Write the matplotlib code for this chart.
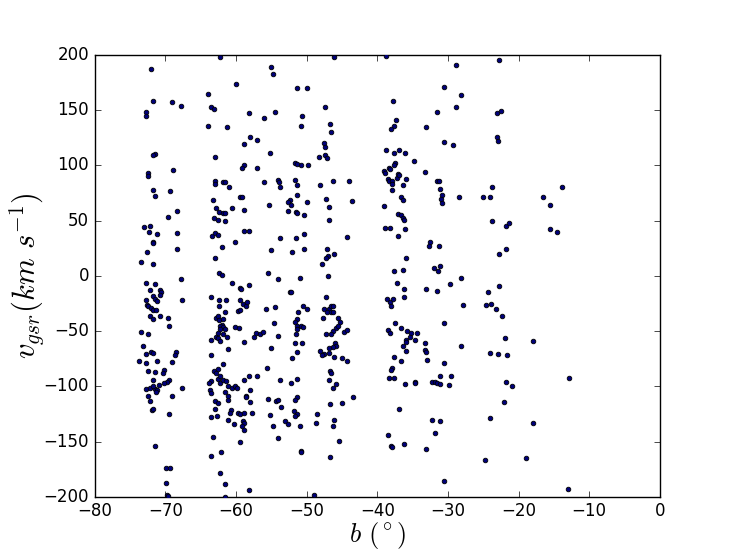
import matplotlib
matplotlib.use("Agg")
import matplotlib.pyplot as plt

plt.style.use('classic')

# Galactic latitude b (deg) and v_gsr (km/s)
b_g1 = [-72.0, -71.8, -72.8, -72.8, -67.8, -69.1, -71.4, -71.7, -72.5, -72.4, -71.8, -71.5,
        -68.9, -69.3, -69.6, -68.4, -68.4, -68.3, -73.0, -72.2, -72.3, -71.2, -71.8, -71.7,
        -72.6, -71.8, -73.5, -67.8, -67.6, -72.8, -72.2, -71.4, -70.7, -70.6, -70.8, -71.8,
        -71.5, -71.2, -72.8, -72.6, -72.4, -72.0, -71.8, -71.3, -72.1, -71.7, -70.7, -69.6,
        -69.5, -73.5, -72.4, -73.2, -73.7, -72.8, -72.0, -71.7, -71.2, -72.8, -68.5, -68.7,
        -69.0, -70.2, -70.4, -72.4, -71.4, -71.8, -69.5, -69.8, -70.2, -70.9, -72.8, -72.2,
        -71.5, -71.2, -71.8, -71.3, -67.6, -72.4, -69.1, -72.2, -71.9, -71.7, -69.5, -71.4,
        -69.9, -69.3, -69.9, -69.7, -69.6]
v_g1 = [187, 158, 148, 145, 154, 157, 110, 109, 93, 90, 78, 72,
        96, 77, 53, 59, 39, 24, 44, 45, 40, 38, 31, 30,
        22, 11, 13, -3, -22, -6, -13, -7, -13, -15, -17, -18,
        -21, -23, -22, -26, -27, -29, -31, -31, -36, -39, -36, -38,
        -45, -51, -53, -63, -77, -71, -69, -70, -77, -79, -69, -72,
        -78, -85, -88, -86, -87, -94, -94, -96, -97, -99, -102, -101,
        -102, -103, -100, -105, -101, -109, -109, -113, -121, -120, -125, -154,
        -174, -174, -187, -198, -199]

b_g2 = [-62.3, -63.9, -63.6, -63.1, -63.9, -61.3, -60.0, -63.0, -63.0, -63.0, -61.8, -61.5,
        -61.0, -63.2, -62.8, -62.4, -61.9, -61.5, -63.1, -62.6, -61.6, -60.5, -59.5, -59.2,
        -60.1, -58.9, -58.1, -58.8, -58.8, -59.2, -58.1, -58.0, -58.9, -57.0, -57.0, -56.1,
        -63.4, -62.9, -62.5, -63.0, -62.0, -62.4, -62.0, -60.5, -59.5, -59.3, -63.6, -62.4,
        -61.4, -62.4, -61.5, -59.5, -59.0, -58.6, -58.4, -59.7, -59.4, -58.1, -62.8, -62.6,
        -62.4, -61.9, -62.0, -62.2, -61.8, -62.3, -62.6, -62.8, -62.5, -62.3, -61.9, -61.5,
        -63.6, -61.3, -61.1, -60.1, -59.6, -58.9, -63.5, -61.8, -63.1, -62.6, -62.8, -63.6,
        -63.8, -62.6, -62.2, -62.3, -61.8, -61.4, -61.1, -60.6, -60.1, -59.9, -63.7, -63.6,
        -61.6, -61.2, -61.1, -62.9, -62.6, -63.0, -63.6, -62.7, -60.7, -60.9, -59.7, -59.4,
        -58.9, -59.0, -58.9, -59.1, -58.8, -61.2, -60.3, -58.6, -58.6, -58.0, -58.0, -57.8,
        -58.1, -58.8, -57.0, -59.5, -63.2, -63.6, -62.1, -62.3, -61.6, -61.5, -58.1, -57.2,
        -57.4, -56.6, -56.2]
v_g2 = [198, 165, 153, 151, 136, 135, 174, 108, 86, 83, 85, 85,
        80, 69, 61, 58, 57, 57, 52, 51, 50, 61, 71, 71,
        31, 41, 41, 60, 100, 98, 147, 126, 119, 123, 98, 143,
        36, 39, 37, 16, 26, 3, 1, -6, -11, -12, -19, -22,
        -22, -27, -33, -22, -25, -27, -24, -32, -31, -8, -38, -36,
        -40, -39, -44, -45, -46, -48, -52, -55, -56, -59, -53, -48,
        -58, -55, -66, -46, -47, -60, -72, -80, -86, -84, -88, -95,
        -97, -93, -91, -97, -94, -95, -100, -101, -100, -101, -103, -106,
        -105, -112, -109, -113, -115, -120, -128, -127, -121, -124, -124, -125,
        -124, -131, -133, -136, -139, -130, -134, -109, -110, -103, -114, -124,
        -91, -94, -91, -150, -146, -163, -159, -178, -188, -200, -194, -52,
        -55, -53, -51]

b_g3 = [-55.0, -54.8, -54.5, -55.2, -56.0, -54.1, -53.9, -53.8, -55.3, -55.0, -53.8, -55.5,
        -54.0, -55.7, -54.5, -54.6, -54.1, -55.1, -55.6, -53.7, -55.4, -54.4, -54.1, -53.6,
        -55.2, -54.8, -53.1, -52.6, -54.1, -52.2, -51.4, -50.0, -50.7, -50.8, -50.8, -51.6,
        -51.4, -49.8, -51.6, -51.4, -52.4, -52.6, -52.2, -52.6, -51.4, -50.0, -51.5, -51.4,
        -50.4, -50.4, -51.5, -52.1, -50.4, -51.0, -52.4, -52.2, -50.5, -49.9, -51.2, -51.4,
        -51.6, -51.4, -50.8, -50.5, -51.4, -51.5, -51.7, -50.6, -51.3, -52.1, -51.3, -51.3,
        -51.6, -51.8, -51.4, -51.6, -50.9, -50.8, -50.8, -49.0, -48.6, -48.7]
v_g3 = [189, 183, 148, 111, 85, 87, 85, 80, 64, 23, 34, 3,
        -3, -30, -28, -43, -54, -65, -83, -94, -111, -113, -112, -119,
        -126, -136, -131, -134, -147, -97, 170, 170, 145, 136, 100, 102,
        101, 100, 87, 82, 69, 67, 64, 59, 73, 67, 58, 57,
        55, 38, 34, 22, 24, -2, -15, -15, -27, -30, -33, -39,
        -42, -45, -45, -46, -48, -53, -61, -61, -69, -74, -93, -110,
        -112, -122, -125, -127, -136, -158, -159, -198, -125, -133]

b_g4 = [-46.1, -47.4, -46.7, -46.6, -47.6, -47.4, -48.2, -47.4, -47.1, -48.1, -46.3, -44.0,
        -43.6, -47.2, -46.8, -46.8, -44.3, -47.1, -47.0, -47.2, -46.1, -47.8, -47.0, -47.2,
        -47.6, -47.7, -46.8, -46.5, -46.2, -47.1, -46.5, -46.2, -45.6, -45.3, -45.9, -46.2,
        -46.6, -47.2, -45.6, -44.7, -44.3, -46.0, -45.8, -46.2, -46.8, -46.9, -48.1, -47.6,
        -47.8, -46.1, -45.0, -44.3, -46.7, -46.6, -46.9, -45.9, -46.2, -43.5, -45.0, -46.7,
        -46.1, -46.2, -46.7, -45.4]
v_g4 = [198, 153, 137, 130, 120, 117, 108, 109, 107, 82, 86, 86,
        68, 70, 62, 51, 35, 24, 18, 16, 20, 11, 0, -19,
        -30, -38, -30, -27, -27, -33, -33, -33, -38, -42, -47, -50,
        -53, -53, -45, -51, -49, -61, -63, -64, -65, -70, -68, -71,
        -72, -73, -74, -77, -86, -88, -94, -98, -101, -110, -115, -116,
        -130, -136, -164, -149]

b_g5 = [-38.7, -37.8, -37.3, -37.6, -38.1, -38.7, -36.9, -37.7, -36.1, -34.8, -37.5, -37.7,
        -38.4, -38.2, -39.0, -38.9, -37.0, -37.2, -38.5, -38.3, -37.9, -36.9, -36.0, -36.3,
        -37.9, -37.9, -39.1, -36.6, -36.3, -37.0, -36.7, -36.4, -36.2, -38.9, -38.2, -36.1,
        -37.0, -35.9, -37.6, -36.4, -37.2, -36.2, -36.2, -38.6, -38.2, -38.1, -37.8, -37.5,
        -36.6, -35.8, -35.2, -34.4, -38.5, -38.2, -36.0, -36.4, -36.0, -34.7, -35.3, -35.9,
        -37.7, -36.6, -37.9, -38.0, -38.3, -37.7, -36.1, -34.7, -34.6, -36.9, -38.5, -38.0,
        -37.9, -36.2, -33.1, -33.2, -33.3, -33.1, -33.2, -33.0, -33.1]
v_g5 = [199, 158, 141, 136, 133, 114, 114, 111, 111, 104, 102, 100,
        98, 97, 95, 93, 92, 89, 88, 86, 86, 91, 88, 82,
        83, 78, 63, 71, 69, 56, 55, 52, 51, 43, 43, 42,
        36, 16, 4, 5, -6, -12, -19, -21, -24, -27, -21, -43,
        -47, -50, -52, -52, -49, -52, -58, -63, -60, -58, -55, -68,
        -73, -77, -83, -85, -92, -92, -98, -96, -97, -120, -144, -154,
        -155, -152, 135, 94, -67, -69, -61, -76, -157]

b_g6 = [-28.8, -30.5, -28.1, -28.9, -31.6, -30.5, -29.3, -31.6, -31.2, -31.1, -30.9, -31.0,
        -30.8, -28.5, -32.6, -32.7, -31.3, -32.0, -31.4, -31.1, -29.7, -28.1, -33.1, -31.6,
        -27.9, -30.5, -28.2, -30.5, -32.3, -31.9, -31.5, -31.1, -31.1, -29.5, -29.9, -32.3,
        -31.1, -31.8, -30.5]
v_g6 = [191, 171, 164, 153, 148, 121, 118, 86, 86, 79, 73, 70,
        66, 71, 31, 27, 27, 7, 4, 9, -7, -2, -12, -14,
        -26, -43, -63, -79, -96, -96, -97, -91, -98, -91, -99, -130,
        -131, -142, -186]

b_g7 = [-22.7, -23.0, -22.5, -23.1, -22.9, -23.8, -25.1, -24.0, -23.8, -21.8, -21.3, -21.8,
        -22.8, -22.8, -24.3, -24.6, -23.9, -23.2, -22.4, -21.9, -24.0, -22.9, -21.6, -21.8,
        -20.9, -22.1, -24.0, -24.7, -18.9, -17.9, -18.0, -16.5, -15.6, -15.6, -14.6, -13.9,
        -12.8, -13.0]
v_g7 = [195, 147, 149, 126, 122, 80, 71, 71, 50, 45, 48, 24,
        20, -9, -15, -26, -25, -30, -36, -56, -70, -71, -72, -96,
        -100, -114, -129, -167, -165, -59, -133, 71, 64, 42, 40, 80,
        -92, -193]

b_all = b_g1 + b_g2 + b_g3 + b_g4 + b_g5 + b_g6 + b_g7
v_all = v_g1 + v_g2 + v_g3 + v_g4 + v_g5 + v_g6 + v_g7

fig = plt.figure(figsize=(7.34, 5.54), dpi=100, facecolor='white')
ax = fig.add_axes([0.129, 0.103, 0.770, 0.798])
ax.scatter(b_all, v_all, s=11, c='#00007a', edgecolors='k', linewidths=0.6, zorder=3)
ax.set_xlim(-80, 0)
ax.set_ylim(-200, 200)
ax.set_xticks(range(-80, 1, 10))
ax.set_yticks(range(-200, 201, 50))
ax.tick_params(labelsize=12)
ax.set_xlabel(r'$b\ (^\circ)$', fontsize=19)
ax.set_ylabel(r'$v_{gsr}(km\ s^{-1})$', fontsize=22)
ax.xaxis.set_label_coords(0.5, -0.052)
ax.yaxis.set_label_coords(-0.085, 0.5)
fig.savefig('out.png', dpi=100, facecolor='white')
